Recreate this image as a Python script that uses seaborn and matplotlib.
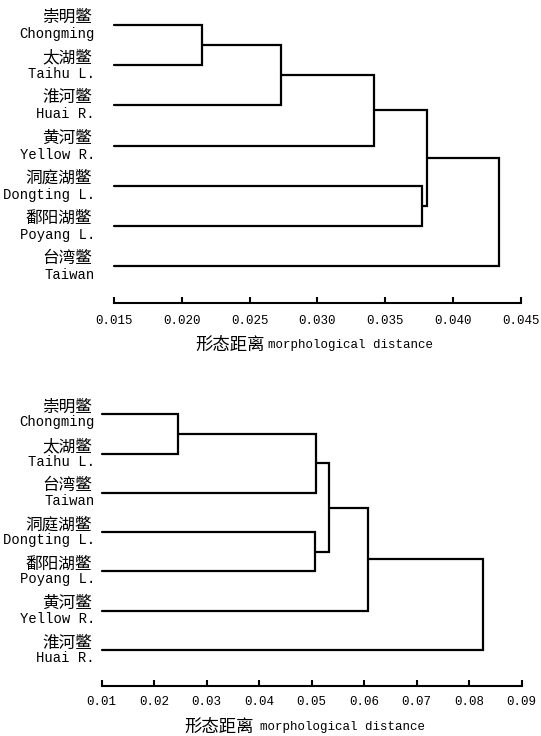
import matplotlib
matplotlib.use("Agg")
import matplotlib.pyplot as plt
import numpy as np
import pandas as pd
import seaborn as sns

# ---------------- data ----------------
top_zh = ["崇明鳖", "太湖鳖", "淮河鳖", "黄河鳖", "洞庭湖鳖", "鄱阳湖鳖", "台湾鳖"]
top_en = ["Chongming", "Taihu L.", "Huai R.", "Yellow R.", "Dongting L.", "Poyang L.", "Taiwan"]
# merges: (cluster a, cluster b, distance); leaves 0..6, new clusters numbered 7, 8, ...
top_merges = [(0, 1, 0.0215), (7, 2, 0.0273), (8, 3, 0.0342),
              (4, 5, 0.0377), (9, 10, 0.0381), (11, 6, 0.0434)]
top_ticks = [0.015, 0.020, 0.025, 0.030, 0.035, 0.040, 0.045]
top_ticklabels = ["0.015", "0.020", "0.025", "0.030", "0.035", "0.040", "0.045"]

bot_zh = ["崇明鳖", "太湖鳖", "台湾鳖", "洞庭湖鳖", "鄱阳湖鳖", "黄河鳖", "淮河鳖"]
bot_en = ["Chongming", "Taihu L.", "Taiwan", "Dongting L.", "Poyang L.", "Yellow R.", "Huai R."]
bot_merges = [(0, 1, 0.0246), (7, 2, 0.0508), (3, 4, 0.0507),
              (8, 9, 0.0532), (10, 5, 0.0607), (11, 6, 0.0826)]
bot_ticks = [0.01, 0.02, 0.03, 0.04, 0.05, 0.06, 0.07, 0.08, 0.09]
bot_ticklabels = ["0.01", "0.02", "0.03", "0.04", "0.05", "0.06", "0.07", "0.08", "0.09"]

xlabel_zh = "形态距离"
xlabel_en = "morphological distance"

# ---------------- style ----------------
sns.set_theme(style="white")
plt.rcParams["font.family"] = ["Liberation Mono", "Noto Sans CJK SC"]
ZH = ["Noto Sans CJK SC"]
EN = ["Liberation Mono", "Noto Sans CJK SC"]

W, H = 541, 736
fig = plt.figure(figsize=(W / 100, H / 100), dpi=100)


def segments(merges, n, xmin):
    xs = {i: xmin for i in range(n)}
    ys = {i: float(i) for i in range(n)}
    rows = []
    for k, (a, b, h) in enumerate(merges):
        pts = [(xs[a], ys[a]), (h, ys[a]), (h, ys[b]), (xs[b], ys[b])]
        for j, (x, y) in enumerate(pts):
            rows.append({"seg": k, "order": j, "x": x, "y": y})
        xs[n + k] = h
        ys[n + k] = (ys[a] + ys[b]) / 2
    return pd.DataFrame(rows)


def panel(rect, zh, en, merges, ticks, ticklabels, lab,
          zh_dx, en_dx, zh_dy, en_dy, pad, xl_zh, xl_en, xl_dy):
    ax = fig.add_axes(rect)
    df = segments(merges, len(zh), ticks[0])
    sns.lineplot(data=df, x="x", y="y", units="seg", estimator=None, sort=False,
                 color="black", linewidth=1.6, ax=ax, legend=False)
    for line in ax.lines:
        line.set_clip_on(False)
        line.set_solid_joinstyle("miter")
    ax.set_xlim(ticks[0], ticks[-1])
    ax.set_ylim(6.92, -0.6)
    ax.set_xticks(ticks)
    ax.set_xticklabels(ticklabels)
    ax.set_yticks([])
    ax.set_xlabel("")
    ax.set_ylabel("")
    for s in ["left", "top", "right"]:
        ax.spines[s].set_visible(False)
    ax.spines["bottom"].set_color("black")
    ax.spines["bottom"].set_linewidth(1.5)
    ax.tick_params(axis="x", bottom=True, direction="in", length=4, width=1.5,
                   pad=pad, labelsize=9, colors="black")
    for t in ax.get_xticklabels():
        t.set_family(EN)
    for i in range(len(zh)):
        ax.annotate(zh[i], xy=(0, i), xycoords=("axes fraction", "data"),
                    xytext=(-zh_dx, zh_dy), textcoords="offset points",
                    ha="right", va="center", fontsize=12, family=ZH, color="black")
        ax.annotate(en[i], xy=(0, i), xycoords=("axes fraction", "data"),
                    xytext=(-en_dx, en_dy), textcoords="offset points",
                    ha="right", va="center", fontsize=10, family=EN, color="black")
    ax.annotate(xlabel_zh, xy=(xl_zh, 0), xycoords="axes fraction",
                xytext=(0, xl_dy), textcoords="offset points",
                ha="right", va="center", fontsize=12.5, family=ZH, color="black")
    ax.annotate(xlabel_en, xy=(xl_en, 0), xycoords="axes fraction",
                xytext=(0, xl_dy), textcoords="offset points",
                ha="left", va="center", fontsize=9, family=EN, color="black")
    return ax


def rect_from_px(x0, x1, y0, y1):
    return [x0 / W, 1 - y1 / H, (x1 - x0) / W, (y1 - y0) / H]


# top panel: x 114..520.5 px, leaves at y 25 + 40.17*i
s1 = 40.17
panel(rect_from_px(114, 520.5, 25 - 0.6 * s1, 25 + 6.92 * s1),
      top_zh, top_en, top_merges, top_ticks, top_ticklabels, "top",
      zh_dx=15.8, en_dx=13.7, zh_dy=5.4, en_dy=-6.5, pad=9,
      xl_zh=0.3715, xl_en=0.3796, xl_dy=-30.2)

# bottom panel: x 101.7..521.7 px, leaves at y 414.3 + 39.28*i
s2 = 39.28
panel(rect_from_px(101.7, 521.7, 414.3 - 0.6 * s2, 414.3 + 6.92 * s2),
      bot_zh, bot_en, bot_merges, bot_ticks, bot_ticklabels, "bottom",
      zh_dx=7.0, en_dx=4.8, zh_dy=5.0, en_dy=-5.8, pad=7,
      xl_zh=0.361, xl_en=0.377, xl_dy=-29.3)

fig.savefig("out.png", dpi=100, facecolor="white")
